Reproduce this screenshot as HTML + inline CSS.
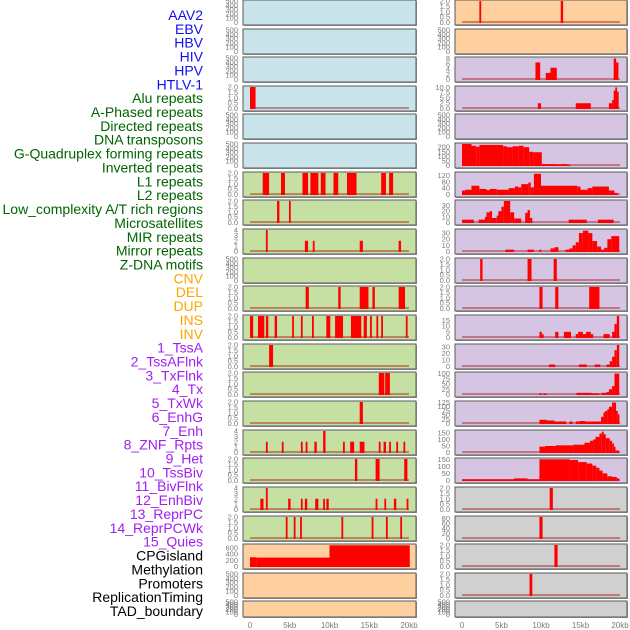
<!DOCTYPE html>
<html><head><meta charset="utf-8">
<style>
html,body{margin:0;padding:0;background:#fff;}
svg{display:block;font-family:"Liberation Sans",sans-serif;}
</style></head>
<body>
<svg id="chart" width="630" height="630" viewBox="0 0 630 630"></svg>
<script>
const trackLabels = ["AAV2","EBV","HBV","HIV","HPV","HTLV-1","Alu repeats","A-Phased repeats","Directed repeats","DNA transposons","G-Quadruplex forming repeats","Inverted repeats","L1 repeats","L2 repeats","Low_complexity A/T rich regions","Microsatellites","MIR repeats","Mirror repeats","Z-DNA motifs","CNV","DEL","DUP","INS","INV","1_TssA","2_TssAFlnk","3_TxFlnk","4_Tx","5_TxWk","6_EnhG","7_Enh","8_ZNF_Rpts","9_Het","10_TssBiv","11_BivFlnk","12_EnhBiv","13_ReprPC","14_ReprPCWk","15_Quies","CPGisland","Methylation","Promoters","ReplicationTiming","TAD_boundary"];
const labelGroups = ["virus","virus","virus","virus","virus","virus","repeat","repeat","repeat","repeat","repeat","repeat","repeat","repeat","repeat","repeat","repeat","repeat","repeat","sv","sv","sv","sv","sv","state","state","state","state","state","state","state","state","state","state","state","state","state","state","state","other","other","other","other","other"];
const xTickValues = [0,5,10,15,20];
const xTickLabels = ["0","5kb","10kb","15kb","20kb"];
const emptyTicks = ["0","100","200","300","400","500"];
const ticks2 = ["0.0","0.5","1.0","1.5","2.0"];
// left column panels (22), right column panels (22)
const leftTicks = [emptyTicks,emptyTicks,emptyTicks,ticks2,emptyTicks,emptyTicks,ticks2,ticks2,["0","1","2","3","4"],emptyTicks,ticks2,ticks2,ticks2,ticks2,ticks2,["0","1","2","3","4"],ticks2,["0","1","2","3","4"],ticks2,["0","200","400","600"],emptyTicks,emptyTicks];
const leftMax = [500,500,500,2,500,500,2,2,4,500,2,2,2,2,2,4,2,4,2,700,500,500];
const leftBg = ["blue","blue","blue","blue","blue","blue","green","green","green","green","green","green","green","green","green","green","green","green","green","peach","peach","peach"];
const leftSegs = [
 [],[],[],
 [[0,0.7,2]],
 [],[],
 [[1.6,2.4,2],[3.9,4.4,2],[6.6,7.3,2],[7.6,8.6,2],[8.9,9.5,2],[10.5,11.1,2],[12.2,13.4,2],[16.5,17.1,2],[17.5,18.0,2]],
 [[3.4,3.7,2],[4.9,5.1,2]],
 [[2.0,2.2,4],[6.9,7.3,2],[7.9,8.1,2],[13.8,14.2,2],[18.7,19.0,2]],
 [],
 [[7.0,7.4,2],[11.1,11.4,2],[13.8,14.9,2],[15.4,15.7,2],[18.7,19.5,2]],
 [[0,0.4,2],[1.0,1.8,2],[2.0,2.3,2],[3.1,3.4,2],[5.3,5.5,2],[6.4,6.6,2],[7.8,8.0,2],[9.6,10.1,2],[10.7,11.7,2],[12.7,14.0,2],[14.3,14.7,2],[15.1,15.3,2],[15.9,16.1,2],[16.5,16.7,2],[19.6,19.8,2]],
 [[2.4,2.9,2]],
 [[16.2,16.9,2],[17.0,17.6,2]],
 [[13.8,14.2,2]],
 [[2.0,2.2,2],[4.0,4.2,2],[6.4,6.6,2],[7.0,7.2,2],[8.1,8.4,2],[9.2,9.5,4],[11.7,11.9,2],[12.6,13.1,2],[13.8,14.4,2],[16.2,16.4,2],[16.8,17.1,2],[17.5,17.7,2],[18.4,18.6,2],[19.3,19.5,2]],
 [[13.2,13.5,2],[15.8,16.3,2],[19.4,19.8,2]],
 [[1.3,1.7,2],[2.0,2.2,4],[4.8,5.1,2],[6.4,6.6,2],[6.9,7.2,2],[8.2,8.6,2],[9.2,9.4,2],[9.6,9.9,2],[15.8,16.0,2],[16.9,17.1,2],[18.1,18.4,2],[19.7,19.9,2]],
 [[4.5,4.7,2],[5.5,5.7,2],[6.3,6.5,2],[11.5,11.7,2],[15.3,15.5,2],[17.1,17.3,2],[18.9,19.1,2]],
 [[0,0.8,300],[0.8,10,290],[10,20.1,690]],
 [],[]
];
const rightTicks = [ticks2,emptyTicks,["0","2","4","6","8"],["0.0","2.5","5.0","7.5","10.0"],emptyTicks,["0","50","100","150","200"],["0","40","80","120"],["0","10","20","30"],["0","10","20","30"],ticks2,ticks2,["0","5","10","15"],["0","10","20","30"],["0","25","50","75","100"],["0","25","50","75","100","125"],["0","50","100","150"],["0","50","100","150"],ticks2,["0","20","40","60","80"],ticks2,ticks2,emptyTicks];
const rightMax = [2,500,8.2,10.2,500,235,135,38,35,2,2,19,33,103,128,165,152,2,85,2,2,500];
const rightBg = ["peach","peach","purple","purple","purple","purple","purple","purple","purple","purple","purple","purple","purple","purple","purple","purple","purple","gray","gray","gray","gray","gray"];
const rightSegs = [
 [[2.2,2.35,2],[12.5,12.8,2]],
 [],
 [[9.3,9.9,6.5],[10.6,11.2,2.5],[11.2,12.0,4.5],[19.2,19.5,8],[19.5,19.8,6.5]],
 [[9.6,10.0,2.5],[14.4,16.3,2.5],[18.6,19.0,2.5],[19.0,19.2,4],[19.2,19.4,8.5],[19.4,19.6,10],[19.6,19.8,8]],
 [],
 [[0,1.2,235],[1.2,1.8,215],[1.8,2.2,205],[2.2,5.2,225],[5.2,5.7,210],[5.7,6.4,200],[6.4,7.2,210],[7.2,7.8,215],[7.8,8.5,200],[8.5,9.0,150],[9.0,10.1,145],[10.1,12.0,15],[12.0,12.5,12],[12.5,13.3,15],[13.3,13.7,8]],
 [[0,0.4,25],[0.4,1.2,30],[1.2,2.2,55],[2.2,3.1,35],[3.1,3.5,28],[3.5,4.4,35],[4.4,5.9,30],[5.9,6.7,40],[6.7,7.1,50],[7.1,7.5,45],[7.5,8.4,65],[8.4,8.7,75],[8.7,9.1,45],[9.1,10.0,130],[10.0,14.6,55],[14.6,15.0,50],[15.0,15.9,30],[15.9,16.5,40],[16.5,18.6,50],[18.6,19.3,25],[19.3,19.7,10]],
 [[0,1.5,5],[2.1,2.9,5],[2.9,3.1,10],[3.1,3.5,18],[3.5,3.8,20],[3.8,4.4,8],[4.4,4.6,12],[4.6,5.0,20],[5.0,5.3,28],[5.3,6.1,38],[6.1,6.6,18],[6.6,7.5,7],[8.0,8.3,17],[8.3,8.6,22],[8.6,8.9,8],[13.5,15.8,5],[17.2,19.2,5]],
 [[5.5,6.6,3],[8.3,9.1,3],[9.8,9.9,3],[11.2,11.7,5],[11.7,12.2,7],[13.1,13.6,3],[13.6,14.0,5],[14.0,14.4,10],[14.4,14.8,15],[14.8,15.3,30],[15.3,16.0,34],[16.0,16.5,30],[16.5,17.1,17],[17.1,17.6,8],[17.6,18.0,3],[18.0,18.4,6],[18.4,18.9,20],[18.9,19.9,25]],
 [[2.3,2.6,2],[8.3,8.8,2],[11.6,12.0,2]],
 [[9.8,10.2,2],[11.8,12.2,2],[16.1,17.4,2]],
 [[9.8,10.1,5],[10.1,10.3,3],[11.8,12.2,5],[12.9,13.8,5],[14.4,14.7,3],[14.7,15.3,5],[15.3,15.7,3],[15.7,16.3,5],[16.3,16.6,3],[17.9,18.7,3],[19.0,19.3,5],[19.3,19.6,12],[19.6,19.9,19]],
 [[11.0,11.8,3],[14.8,15.8,3],[16.8,17.5,3],[18.3,18.4,3],[18.4,18.7,3],[18.7,19.0,8],[19.0,19.3,15],[19.3,19.6,25],[19.6,19.9,33]],
 [[9.8,10.1,5],[10.3,10.7,5],[14.5,16.4,8],[16.4,17.4,5],[17.6,18.3,8],[18.3,18.6,12],[18.6,19.0,25],[19.0,19.3,40],[19.3,19.9,100]],
 [[9.8,10.7,22],[10.7,11.7,18],[11.7,13.2,12],[13.6,14.0,12],[14.4,14.9,12],[14.9,15.6,15],[15.6,17.6,12],[17.6,17.9,40],[17.9,18.1,65],[18.1,18.4,75],[18.4,18.6,85],[18.6,19.0,100],[19.0,19.5,125],[19.5,19.7,75],[19.7,19.9,55]],
 [[9.8,10.5,45],[10.5,11.9,50],[11.9,14.1,55],[14.1,15.5,60],[15.5,16.2,75],[16.2,16.6,90],[16.6,16.9,100],[16.9,17.4,120],[17.4,17.7,145],[17.7,17.9,160],[17.9,18.2,140],[18.2,18.7,110],[18.7,19.0,90],[19.0,19.2,70],[19.2,19.4,45],[19.4,19.9,15]],
 [[0,6.6,8],[6.6,8.3,15],[8.3,9.8,8],[9.8,13.6,150],[13.6,14.7,145],[14.7,15.8,130],[15.8,16.5,120],[16.5,17.0,105],[17.0,17.4,90],[17.4,17.8,70],[17.8,18.4,50],[18.4,19.0,30],[19.0,19.6,25],[19.6,19.9,15]],
 [[11.1,11.5,2]],
 [[9.8,10.2,85]],
 [[11.7,12.1,2]],
 [[8.55,8.9,2]],
 []
];

const NS = "http://www.w3.org/2000/svg";
const svg = document.getElementById("chart");
const bgColors = {blue:"#c8e3ea", green:"#c6e0a4", peach:"#fecf9f", purple:"#d5c5e2", gray:"#d0d0d0"};
const groupColors = {virus:"#1010ee", repeat:"#006400", sv:"#ffa500", state:"#a020f0", other:"#000000"};
const rowTops = [0,29,57,86,114,143,172,200,229,258,286,315,344,372,401,430,458,487,516,544,573,601];
const cols = [
  {x0:243, x1:416, kb0:250, kb20:409, tickX:238, name:"left"},
  {x0:455, x1:627, kb0:462, kb20:620, tickX:450, name:"right"}
];
function mk(tag, attrs){const e=document.createElementNS(NS,tag);for(const k in attrs)e.setAttribute(k,attrs[k]);svg.appendChild(e);return e;}

// labels
trackLabels.forEach((t,i)=>{
  const e=mk("text",{x:203,y:15+i*13.86+5,"text-anchor":"end","font-size":"14",fill:groupColors[labelGroups[i]]});
  e.textContent=t;
  
  
});

function drawCol(ci, ticksArr, maxArr, bgArr, segsArr){
  const c=cols[ci];
  const xs = kb => c.kb0 + (c.kb20-c.kb0)*kb/20;
  rowTops.forEach((top,r)=>{
    const h = r===21 ? 16 : 25;
    const yBot = top + h - 2.5, yTop = top + 1;
    const ys = v => yBot - (yBot-yTop)*v/maxArr[r];
    const g = mk("rect",{x:c.x0+1,y:top+1,width:c.x1-c.x0,height:h,fill:"#9a9a9a"});
    
    
    const p = mk("rect",{x:c.x0,y:top,width:c.x1-c.x0,height:h,fill:bgColors[bgArr[r]],stroke:"#5a5a5a","stroke-width":"1"});
    
    
    const tk = ticksArr[r];
    tk.forEach((lab,k)=>{
      const v = parseFloat(lab);
      const t = mk("text",{x:c.tickX,y:ys(v)+2.5,"text-anchor":"end","font-size":"7.5",fill:"#7a7a7a"});
      t.textContent = lab;
      
      
    });
    const segs = segsArr[r];
    if (tk !== emptyTicks){
      const bl = mk("rect",{x:xs(0),y:yBot-1.5,width:xs(20)-xs(0),height:2,fill:"rgba(170,20,20,0.45)"});
      
      
    }
    segs.forEach(s=>{
      const x1=xs(s[0]), x2=xs(s[1]);
      const w=Math.max(1.8,x2-x1);
      const y=ys(s[2]);
      const b=mk("rect",{x:x1,y:y,width:w,height:yBot-y+0.5,fill:"#ff0000"});
      
      
    });
  });
  xTickValues.forEach((v,i)=>{
    const t=mk("text",{x:xs(v),y:628,"text-anchor":"middle","font-size":"8",fill:"#7a7a7a"});
    t.textContent=xTickLabels[i];
    
    
  });
}
drawCol(0, leftTicks, leftMax, leftBg, leftSegs);
drawCol(1, rightTicks, rightMax, rightBg, rightSegs);
</script>
</body></html>
